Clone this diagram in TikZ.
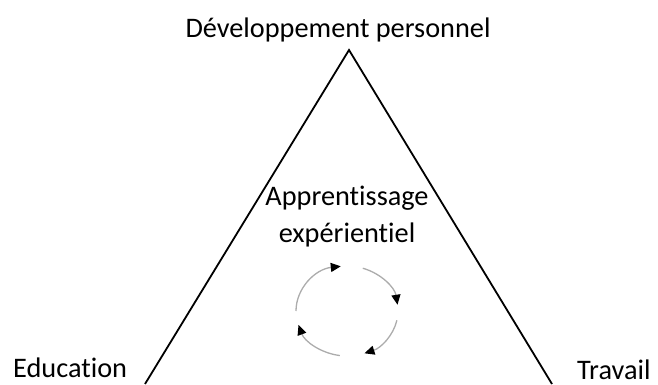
\documentclass[tikz,border=0pt]{standalone}
\usepackage{fontspec}
\setmainfont{Carlito}[Ligatures={NoCommon}]
\usetikzlibrary{arrows.meta}
\begin{document}
\begin{tikzpicture}[x=1pt,y=1pt,
  lbl/.style={font=\fontsize{28.3}{32}\selectfont, anchor=base, inner sep=0pt},
  side/.style={line width=1.8pt, draw=black, line join=miter},
  cyc/.style={draw=gray!65, line width=1.3pt, -{Triangle[color=black,length=10pt,width=9pt]}}]
\useasboundingbox (0,0) rectangle (658,384);
% triangle
\coordinate (apex) at (349,334);
\coordinate (bl) at (145,0);
\coordinate (br) at (552,0);
\draw[side] (bl) -- (apex) -- (br);
% labels
\node[lbl] (dev) at (338,347) {Développement personnel};
\node[lbl, anchor=base west] (edu) at (13,7) {Education};
\node[lbl, anchor=base west] (trav) at (577,5) {Travail};
\node[lbl] (app) at (347,179) {Apprentissage};
\node[lbl] (exp) at (347,142) {expérientiel};
% cycle
\coordinate (c) at (347,73);
\draw[cyc] ([shift={(180:51 and 45)}]c) arc[start angle=180, end angle=97, x radius=51, y radius=45];
\draw[cyc] ([shift={(72:51 and 45)}]c) arc[start angle=72, end angle=8, x radius=51, y radius=45];
\draw[cyc] ([shift={(-12:51 and 45)}]c) arc[start angle=-12, end angle=-70, x radius=51, y radius=45];
\draw[cyc] ([shift={(-98:51 and 45)}]c) arc[start angle=-98, end angle=-162, x radius=51, y radius=45];
\end{tikzpicture}
\end{document}
